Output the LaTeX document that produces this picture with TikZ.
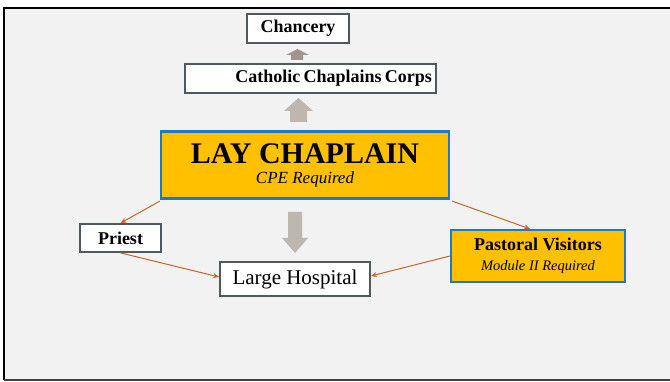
\documentclass[tikz,border=0pt]{standalone}
\usepackage{fontspec}
\setmainfont{Liberation Serif}
\usetikzlibrary{positioning,arrows.meta}

\definecolor{bggray}{HTML}{F2F2F2}
\definecolor{gold}{HTML}{FFC000}
\definecolor{boxblue}{HTML}{1F78C8}
\definecolor{boxline}{HTML}{505A5E}
\definecolor{linkorange}{HTML}{C5652B}
\definecolor{liftgray}{HTML}{BEB7AF}
\definecolor{liftdark}{HTML}{A0968E}

\tikzset{
  plainbox/.style={draw=boxline,line width=1.8pt,fill=white,inner sep=0pt,align=center},
  goldbox/.style={draw=boxblue,line width=2.2pt,fill=gold,inner sep=0pt,align=center},
  link/.style={draw=linkorange,line width=1pt,-{Stealth[length=6pt,width=5pt]}}
}

\begin{document}
\begin{tikzpicture}[x=1pt,y=-1pt]
  \useasboundingbox (0,0) rectangle (670,382);
  \fill[white] (0,0) rectangle (670,382);
  \fill[bggray] (4,8) rectangle (672,380);
  \draw[line width=2.4pt] (672,8) -- (4,8) -- (4,380);
  \draw[line width=1.8pt,black!75] (4,380) -- (672,380);

  % boxes
  \node[plainbox,minimum width=102pt,minimum height=29pt] (chancery) at (298,28.5)
    {\fontsize{18}{20}\selectfont\bfseries Chancery};
  \node[plainbox,minimum width=251pt,minimum height=29pt,text width=243pt,align=right] (corps) at (310.5,78.5)
    {\fontsize{18}{20}\selectfont\bfseries Catholic Chaplains Corps};
  \node[goldbox,minimum width=288pt,minimum height=67pt] (lay) at (305,165)
    {\fontsize{30}{36}\selectfont\bfseries LAY CHAPLAIN\\[7pt]
     \fontsize{17}{18}\selectfont\itshape CPE Required};
  \node[plainbox,minimum width=81pt,minimum height=28pt] (priest) at (120.5,238)
    {\fontsize{18}{20}\selectfont\bfseries Priest};
  \node[goldbox,minimum width=174pt,minimum height=52pt] (pastoral) at (538,256)
    {\fontsize{18}{20}\selectfont\bfseries Pastoral Visitors\\[8pt]
     \fontsize{14.5}{15}\selectfont\itshape Module II Required};
  \node[plainbox,minimum width=150pt,minimum height=34pt] (hospital) at (295,279)
    {\fontsize{21}{24}\selectfont Large Hospital};

  % block arrows
  \fill[liftdark] (291,60) -- (291,55) -- (286,55) -- (297.5,49) -- (309,55) -- (303,55) -- (303,60) -- cycle;
  \fill[liftgray] (290,122) -- (290,111) -- (284,111) -- (298.5,98) -- (313,111) -- (307,111) -- (307,122) -- cycle;
  \fill[liftgray] (288,212) -- (288,238) -- (282,238) -- (295,253) -- (308,238) -- (302,238) -- (302,212) -- cycle;

  % connectors
  \draw[link] ([yshift=-1.5pt]lay.south west) -- (priest.north);
  \draw[link] (priest.south) -- ([yshift=2pt]hospital.west);
  \draw[link] ([xshift=2pt,yshift=-1.5pt]lay.south east) -- ([xshift=-8pt]pastoral.north);
  \draw[link] (pastoral.west) -- ([yshift=3pt]hospital.east);
\end{tikzpicture}
\end{document}
